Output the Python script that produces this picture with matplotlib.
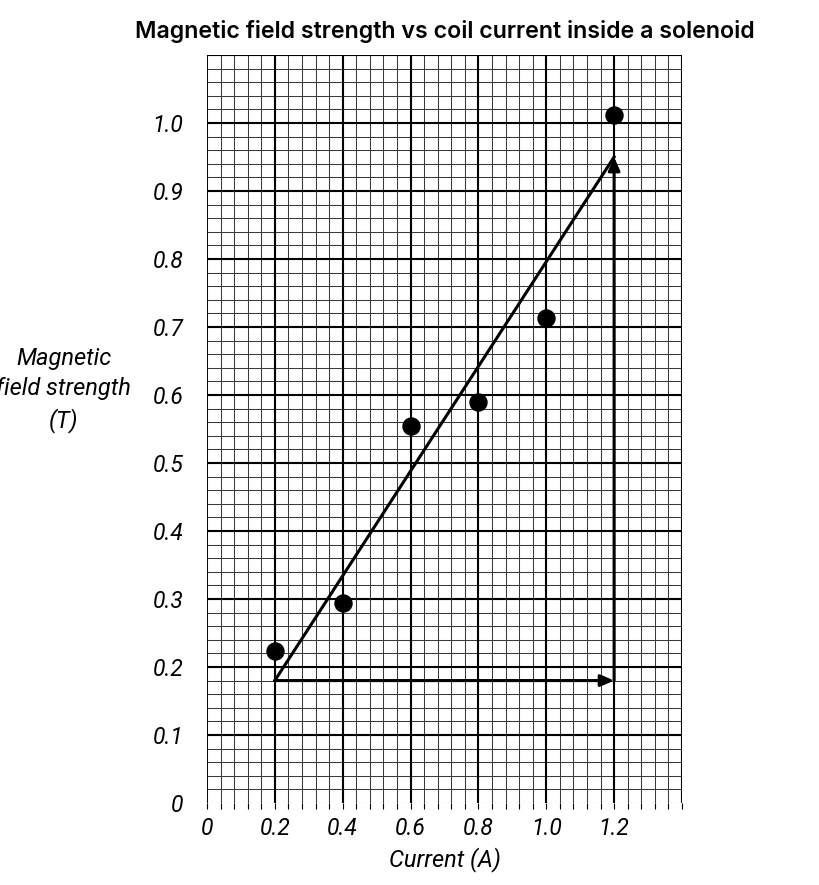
import matplotlib
matplotlib.use("Agg")
import matplotlib.pyplot as plt
import numpy as np

current = [0.2, 0.4, 0.6, 0.8, 1.0, 1.2]
field = [0.224, 0.294, 0.555, 0.590, 0.713, 1.011]
fit_x = [0.2, 1.2]
fit_y = [0.18, 0.95]
xtick_vals = [0, 0.2, 0.4, 0.6, 0.8, 1.0, 1.2]
xtick_labels = ["0", "0.2", "0.4", "0.6", "0.8", "1.0", "1.2"]
ytick_vals = [0, 0.1, 0.2, 0.3, 0.4, 0.5, 0.6, 0.7, 0.8, 0.9, 1.0]
ytick_labels = ["0", "0.1", "0.2", "0.3", "0.4", "0.5", "0.6", "0.7", "0.8", "0.9", "1.0"]

fig = plt.figure(figsize=(8.19, 8.85), dpi=100)
ax = fig.add_axes([0.2527, 0.0927, 0.58, 0.8452])
ax.set_xlim(0, 1.4)
ax.set_ylim(0, 1.1)

# minor grid
for xv in np.arange(0, 1.4001, 0.04):
    ax.axvline(xv, color="#3a3a3a", lw=0.75, zorder=1)
for yv in np.arange(0, 1.1001, 0.02):
    ax.axhline(yv, color="#3a3a3a", lw=0.75, zorder=1)
# major grid
for xv in np.arange(0.2, 1.4001, 0.2):
    ax.axvline(xv, color="black", lw=1.5, zorder=2)
for yv in np.arange(0.1, 1.1001, 0.1):
    ax.axhline(yv, color="black", lw=1.5, zorder=2)

# fitted line and triangle
ax.plot(fit_x, fit_y, color="black", lw=2.2, zorder=4)
ax.annotate("", xy=(fit_x[1], fit_y[0]), xytext=(fit_x[0], fit_y[0]),
            arrowprops=dict(arrowstyle="-|>,head_length=0.8,head_width=0.35",
                            color="black", lw=2.2, shrinkA=0, shrinkB=0), zorder=4)
ax.annotate("", xy=(fit_x[1], fit_y[1]), xytext=(fit_x[1], fit_y[0]),
            arrowprops=dict(arrowstyle="-|>,head_length=0.8,head_width=0.35",
                            color="black", lw=2.2, shrinkA=0, shrinkB=0), zorder=4)

ax.scatter(current, field, s=150, color="black", zorder=5)

for s in ax.spines.values():
    s.set_visible(False)
ax.axvline(0, color="black", lw=1.2, zorder=3)
ax.axhline(1.1, color="black", lw=1.2, zorder=3)

ax.set_xticks(np.arange(0, 1.4001, 0.04), minor=True)
ax.tick_params(axis="x", which="minor", length=4, width=0.8, color="black", direction="out")
ax.set_xticks(xtick_vals)
ax.set_xticklabels(xtick_labels)
ax.set_yticks(ytick_vals)
ax.set_yticklabels(ytick_labels)
ax.tick_params(axis="x", which="major", length=4, width=0.8, pad=6)
ax.tick_params(axis="y", which="major", length=0, pad=17)
for lab in ax.get_xticklabels() + ax.get_yticklabels():
    lab.set_fontfamily("Roboto")
    lab.set_fontstyle("italic")
    lab.set_fontsize(16.5)

ax.set_xlabel("Current (A)", fontfamily="Roboto", fontstyle="italic", fontsize=17, labelpad=5)
fig.text(0.078, 0.5593, "Magnetic\nfield strength\n(T)", fontfamily="Roboto", fontstyle="italic",
         fontsize=17, ha="center", va="center", linespacing=1.38)
fig.text(0.5427, 0.964, "Magnetic field strength vs coil current inside a solenoid",
         fontfamily="Inter", fontweight="semibold", fontsize=16.7, ha="center", va="center")

fig.savefig("out.png", dpi=100)
